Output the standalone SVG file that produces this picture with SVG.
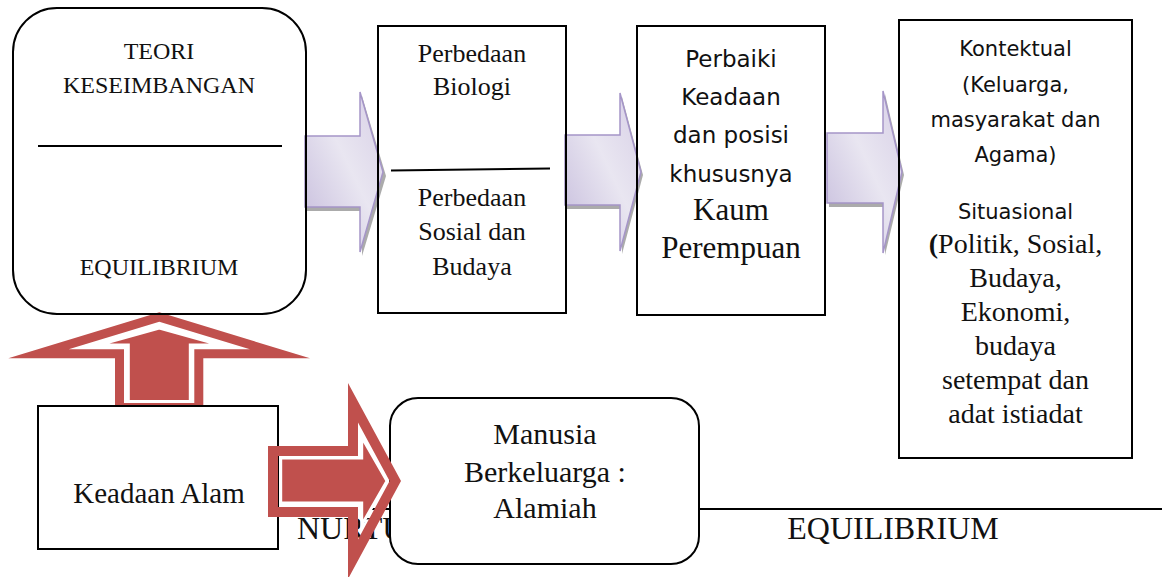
<svg xmlns="http://www.w3.org/2000/svg" width="1162" height="577" viewBox="0 0 1162 577">
<style>
.box{fill:#fff;stroke:#000;stroke-width:2}
.open{fill:none;stroke:#000;stroke-width:2}
.serif{font-family:"Liberation Serif","Times New Roman",serif;fill:#111;text-anchor:middle}
.sans{font-family:"DejaVu Sans","Liberation Sans",sans-serif;fill:#111;text-anchor:middle}
.rule{stroke:#000;stroke-width:2}
.band{fill:#c0504d;fill-rule:evenodd}
.inner{fill:#c0504d;stroke:#fff;stroke-width:3;stroke-linejoin:miter}
.flow{fill:url(#lav);stroke:#a595c8;stroke-width:1.5;stroke-linejoin:miter}
.shadow{fill:#8f8f8f;opacity:0.75}
</style>
<defs>
<linearGradient id="lav" x1="0" y1="1" x2="1" y2="0">
<stop offset="0" stop-color="#c4badb"/>
<stop offset="0.55" stop-color="#e9e6f1"/>
<stop offset="1" stop-color="#d7cfe6"/>
</linearGradient>
</defs>

<g id="connectors-back">
<g id="flow-1">
<polygon class="shadow" points="307,140 362,140 362,96 386,176 362,256 362,211 307,211"/>
<polygon class="flow" points="305,136 360,136 360,92 383,172 360,252 360,207 305,207"/>
</g>
<g id="flow-2">
<polygon class="shadow" points="567,139 622,139 622,97 643,175 622,254 622,209 567,209"/>
<polygon class="flow" points="565,135 620,135 620,93 641,172 620,251 620,205 565,205"/>
</g>
<g id="flow-3">
<polygon class="shadow" points="829,137 885,137 885,94 904,175 885,255 885,207 829,207"/>
<polygon class="flow" points="827,133 883,133 883,91 902,172 883,253 883,203 827,203"/>
</g>
<g id="arrow-up">
<path class="band" d="M159.3,312.3 L310,358.3 L203.3,358.3 L203.3,412 L115,412 L115,358.3 L8.3,358.3 Z M159.3,321.7 L68.7,349.3 L124,349.3 L124,403 L194.3,403 L194.3,349.3 L249.9,349.3 Z"/>
<polygon class="inner" points="159.3,328 220.3,345 190.3,345 190.3,401.5 128.3,401.5 128.3,345 98.3,345"/>
</g>
</g>

<g id="nurture-scale">
<line class="rule" x1="362" y1="509" x2="1162" y2="509"/>
<text class="serif" x="297" y="539" font-size="32" style="text-anchor:start">NURTU</text>
<text class="serif" x="893" y="539" font-size="32">EQUILIBRIUM</text>
</g>

<g id="node-teori">
<rect class="open" x="13" y="8" width="293" height="306" rx="44" ry="44"/>
<text class="serif" x="159" y="59" font-size="24">TEORI</text>
<text class="serif" x="159" y="93" font-size="24">KESEIMBANGAN</text>
<line class="rule" x1="38" y1="146" x2="282" y2="146"/>
<text class="serif" x="159" y="275" font-size="24">EQUILIBRIUM</text>
</g>

<g id="node-perbedaan">
<rect class="open" x="378" y="26" width="188" height="287"/>
<text class="serif" x="472" y="62" font-size="26">Perbedaan</text>
<text class="serif" x="472" y="95" font-size="26">Biologi</text>
<line class="rule" x1="391" y1="170.5" x2="550" y2="168.5"/>
<text class="serif" x="472" y="206" font-size="26">Perbedaan</text>
<text class="serif" x="472" y="240" font-size="26">Sosial dan</text>
<text class="serif" x="472" y="275" font-size="26">Budaya</text>
</g>

<g id="node-perbaiki">
<rect class="open" x="637" y="26" width="188" height="289"/>
<text class="sans" x="731" y="67" font-size="23">Perbaiki</text>
<text class="sans" x="731" y="105" font-size="23">Keadaan</text>
<text class="sans" x="731" y="143" font-size="23">dan posisi</text>
<text class="sans" x="731" y="182" font-size="23">khususnya</text>
<text class="serif" x="731" y="220" font-size="31">Kaum</text>
<text class="serif" x="731" y="258" font-size="31">Perempuan</text>
</g>

<g id="node-kontektual">
<rect class="open" x="899" y="20" width="233" height="438"/>
<text class="sans" x="1015.5" y="56" font-size="21">Kontektual</text>
<text class="sans" x="1015.5" y="92" font-size="21">(Keluarga,</text>
<text class="sans" x="1015.5" y="127" font-size="21">masyarakat dan</text>
<text class="sans" x="1015.5" y="162" font-size="21">Agama)</text>
<text class="sans" x="1015.5" y="219" font-size="21">Situasional</text>
<text class="serif" x="1015.5" y="253" font-size="28"><tspan font-weight="bold">(</tspan>Politik, Sosial,</text>
<text class="serif" x="1015.5" y="287" font-size="28">Budaya,</text>
<text class="serif" x="1015.5" y="321" font-size="28">Ekonomi,</text>
<text class="serif" x="1015.5" y="355" font-size="28">budaya</text>
<text class="serif" x="1015.5" y="389" font-size="28">setempat dan</text>
<text class="serif" x="1015.5" y="423" font-size="28">adat istiadat</text>
</g>

<g id="node-keadaan">
<rect class="box" x="38" y="406" width="240" height="143"/>
<text class="serif" x="159" y="503" font-size="29">Keadaan Alam</text>
</g>

<g id="node-manusia">
<rect class="box" x="390" y="398" width="309" height="166" rx="28" ry="28"/>
<text class="serif" x="545" y="444" font-size="30">Manusia</text>
<text class="serif" x="545" y="482" font-size="30">Berkeluarga :</text>
<text class="serif" x="545" y="518" font-size="30">Alamiah</text>
</g>

<g id="connectors-front">
<g id="arrow-right">
<path class="band" d="M268,446 L348,446 L348,383 L401,481 L348,579 L348,517 L268,517 Z M278,456 L278,507 L358,507 L358,539.5 L389.6,481 L358,422.5 L358,456 Z"/>
<polygon class="inner" points="280.7,458 361.7,458 361.7,437 387,481 361.7,525 361.7,503 280.7,503"/>
</g>
</g>
</svg>
